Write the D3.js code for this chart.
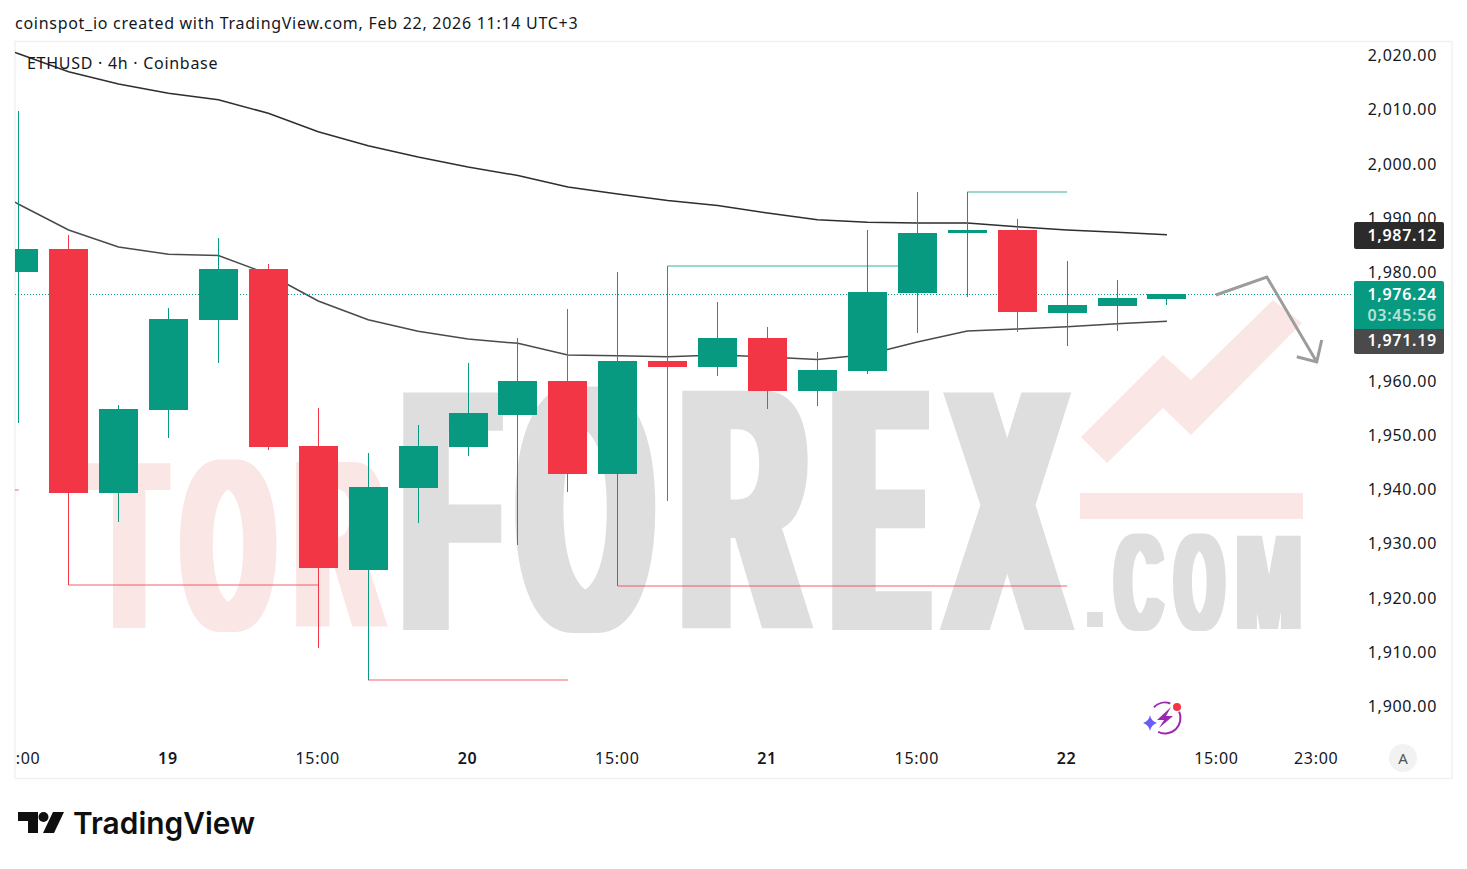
<!DOCTYPE html>
<html>
<head>
  <title>ETHUSD 4h Coinbase</title>
  <meta charset="utf-8">
  <script src="https://d3js.org/d3.v7.min.js"></script>
  <style>
    html, body { margin: 0; padding: 0; background: #fff; }
    svg { display: block; }
    text { font-family: "Noto Sans", sans-serif; fill: #131722; }
    .spaced { letter-spacing: 0.72px; }
    .price-axis text, .time-axis text { font-size: 16px; letter-spacing: 0.72px; }
    .price-axis .domain, .time-axis .domain, .price-axis line, .time-axis line { display: none; }
  </style>
</head>
<body>
<div id="chart"></div>
<script>
// 4h candles, first one is cut by the left edge
const opens  = [1980.28,1984.52,1939.54,1954.84,1971.43,1980.83,1948.20,1925.35,1940.46,1948.02,1953.92,1960.18,1943.04,1963.87,1962.76,1968.11,1958.34,1962.03,1976.41,1987.47,1988.02,1972.72,1974.01,1975.30];
const highs  = [2009.95,1987.10,1955.76,1973.64,1986.54,1981.75,1955.21,1946.91,1952.07,1963.50,1968.11,1973.46,1980.28,1981.38,1974.75,1970.14,1965.53,1988.02,1995.02,1995.02,1990.05,1982.30,1978.80,1976.24];
const lows   = [1952.44,1922.58,1934.19,1949.68,1963.56,1947.47,1910.97,1905.07,1934.01,1946.36,1929.95,1939.72,1922.40,1938.06,1961.11,1955.02,1955.58,1961.53,1969.03,1975.67,1969.22,1966.64,1969.40,1974.19];
const closes = [1984.52,1939.54,1955.02,1971.61,1980.83,1948.02,1925.71,1940.64,1948.20,1954.29,1960.18,1943.04,1963.87,1962.76,1968.11,1958.34,1962.21,1976.59,1987.47,1988.02,1972.90,1974.19,1975.48,1976.24];

// the averages start one bar before the first candle, that bar is off the chart
const maUpper = [2023.90,2020.50,2017.20,2014.93,2013.22,2012.04,2009.53,2006.14,2003.56,2001.47,1999.63,1998.06,1995.94,1994.65,1993.46,1992.53,1991.15,1989.92,1989.44,1989.31,1989.31,1988.63,1988.02,1987.59,1987.12];
const maLower = [1997.80,1992.76,1988.02,1984.89,1983.54,1983.32,1979.91,1974.93,1971.48,1969.35,1967.93,1967.13,1964.98,1964.85,1964.66,1964.98,1964.61,1964.15,1965.07,1967.37,1969.40,1969.77,1970.19,1970.75,1971.19];

// pivot levels: from bar, to bar, price
const pivotLows  = [[-1,0,1940.17],[1,6,1922.58],[7,11,1905.07],[12,21,1922.31]];
const pivotHighs = [[13,18,1981.38],[19,21,1995.02]];

// 1,970.00 is hidden behind the price tags
const priceTicks = [2020,2010,2000,1990,1980,1960,1950,1940,1930,1920,1910,1900];
const timeBars   = [0,3,6,9,12,15,18,21,24,26];
const timeLabels = ["15:00","19","15:00","20","15:00","21","15:00","22","15:00","23:00"];

const lastPrice = 1976.24;
const countdown = "03:45:56";
// hand drawn arrow on the chart, [bar, price]
const drawnArrow = [[23.98,1976.04],[25,1979.36],[26,1963.70]];
const drawnHead  = [[25.6,1964.66],[26,1963.70],[26.1,1967.74]];

const green = "#089981", red = "#F23645";
const width = 1467, height = 869;
const plotLeft = 15, plotRight = 1352, plotTop = 42, plotBottom = 741;

const x = d3.scaleLinear().domain([0, 26]).range([18.68, 1316.73]);
const y = d3.scaleLinear().domain([2020, 1900]).range([56.5, 707.5]);

const svg = d3.select("#chart").append("svg")
  .attr("width", width)
  .attr("height", height);

const defs = svg.append("defs");
defs.append("clipPath").attr("id", "plot-clip").append("rect")
  .attr("x", plotLeft).attr("y", plotTop)
  .attr("width", plotRight - plotLeft).attr("height", plotBottom - plotTop);
defs.append("clipPath").attr("id", "time-clip").append("rect")
  .attr("x", plotLeft).attr("y", plotBottom)
  .attr("width", plotRight - plotLeft).attr("height", 36);

// condensed heavy watermark: stretch each letter into its box and fatten it sideways
function widen(id, r) {
  defs.append("filter").attr("id", id)
    .attr("filterUnits", "userSpaceOnUse")
    .attr("x", 0).attr("y", 0).attr("width", width).attr("height", height)
    .append("feMorphology")
      .attr("operator", "dilate")
      .attr("radius", r + " 0");
}
widen("fat-big", 12);
widen("fat-mid", 8);
widen("fat-small", 5);

const measure = document.createElement("canvas").getContext("2d");
function drawLetters(letters, color, filterId, r) {
  const g = svg.append("g").attr("filter", "url(#" + filterId + ")");
  letters.forEach(function(d) {
    measure.font = "bold 200px 'Liberation Sans'";
    const m = measure.measureText(d[0]);
    const inkW = m.actualBoundingBoxRight + m.actualBoundingBoxLeft;
    const inkH = m.actualBoundingBoxAscent + m.actualBoundingBoxDescent;
    const sx = (d[2] - d[1] - 2 * r) / inkW;
    const sy = (d[4] - d[3]) / inkH;
    g.append("text")
      .attr("transform", "translate(" + (d[1] + r + m.actualBoundingBoxLeft * sx) + "," + (d[3] + m.actualBoundingBoxAscent * sy) + ") scale(" + sx + "," + sy + ")")
      .style("font-family", "'Liberation Sans'")
      .style("font-weight", "bold")
      .style("font-size", "200px")
      .style("fill", color)
      .text(d[0]);
  });
}

drawLetters([["T",88,171,462,628],["O",180,277,459,632],["R",296,388,462,628]], "#fbe6e6", "fat-mid", 8);
drawLetters([["F",403,503,390,630],["O",515,656,386,633],["R",682,814,390,630],["E",832,932,390,630],["X",939,1075,390,630]], "#dedede", "fat-big", 12);
drawLetters([[".",1087,1103,612,627],["C",1113,1165,533,631],["O",1173,1226,533,631],["M",1237,1301,535,629]], "#dedede", "fat-small", 5);

svg.append("polygon")
  .attr("points", "1081,437 1163,355 1191,380 1273,300 1302,323 1191,435 1163,408 1107,463")
  .attr("fill", "#fbe6e6");
svg.append("rect")
  .attr("x", 1080).attr("y", 493).attr("width", 223).attr("height", 26)
  .attr("fill", "#fbe6e6");

// frame
svg.append("rect")
  .attr("x", 15).attr("y", 41.5).attr("width", 1437).attr("height", 737)
  .attr("fill", "none").attr("stroke", "#f2f2f2").attr("stroke-width", 1.5);

svg.append("text")
  .attr("class", "spaced")
  .attr("x", 15).attr("y", 29)
  .style("font-size", "16px")
  .text("coinspot_io created with TradingView.com, Feb 22, 2026 11:14 UTC+3");

const plot = svg.append("g").attr("clip-path", "url(#plot-clip)");

// pivot levels sit under the candles
function drawPivots(list, color) {
  plot.selectAll(null)
    .data(list)
    .enter().append("line")
      .attr("x1", d => x(d[0]))
      .attr("x2", d => x(d[1]))
      .attr("y1", d => Math.round(y(d[2])))
      .attr("y2", d => Math.round(y(d[2])))
      .attr("stroke", color)
      .attr("stroke-opacity", 0.4)
      .attr("stroke-width", 2);
}
drawPivots(pivotLows, red);
drawPivots(pivotHighs, green);

const maLine = d3.line()
  .x((d, i) => x(i - 1))
  .y(d => y(d));

plot.append("path")
  .datum(maUpper)
  .attr("d", maLine)
  .attr("fill", "none")
  .attr("stroke", "#2e2e2e")
  .attr("stroke-width", 1.5);
plot.append("path")
  .datum(maLower)
  .attr("d", maLine)
  .attr("fill", "none")
  .attr("stroke", "#4a4a4a")
  .attr("stroke-width", 1.5);

plot.append("line")
  .attr("x1", plotLeft).attr("x2", plotRight)
  .attr("y1", 294.5).attr("y2", 294.5)
  .attr("stroke", green)
  .attr("stroke-dasharray", "1 2");

const bars = opens.map((o, i) => ({i: i, o: o, h: highs[i], l: lows[i], c: closes[i]}));
const candle = plot.selectAll("g.candle")
  .data(bars)
  .enter().append("g")
    .attr("class", "candle")
    .attr("fill", d => d.c >= d.o ? green : red);
candle.append("rect")
  .attr("x", d => Math.floor(x(d.i)))
  .attr("width", 1)
  .attr("y", d => Math.round(y(d.h)))
  .attr("height", d => Math.round(y(d.l)) - Math.round(y(d.h)));
candle.append("rect")
  .attr("x", d => Math.floor(x(d.i)) - 19)
  .attr("width", 39)
  .attr("y", d => Math.round(y(Math.max(d.o, d.c))))
  .attr("height", d => Math.round(y(Math.min(d.o, d.c))) - Math.round(y(Math.max(d.o, d.c))));

// drawn arrow
const arrowLine = d3.line().x(d => x(d[0])).y(d => y(d[1]));
[drawnArrow, drawnHead].forEach(function(pts) {
  svg.append("path")
    .attr("d", arrowLine(pts))
    .attr("fill", "none")
    .attr("stroke", "#9c9c9c")
    .attr("stroke-width", 3);
});

svg.append("text")
  .attr("class", "spaced")
  .attr("x", 27).attr("y", 69)
  .style("font-size", "16px")
  .text("ETHUSD \u00b7 4h \u00b7 Coinbase");

// axes
const priceAxis = d3.axisRight(y)
  .tickValues(priceTicks)
  .tickFormat(d3.format(",.2f"))
  .tickSize(0)
  .tickPadding(0);
svg.append("g")
  .attr("class", "price-axis")
  .attr("transform", "translate(1437,-1)")
  .call(priceAxis)
  .selectAll("text")
    .attr("text-anchor", "end");

const timeAxis = d3.axisBottom(x)
  .tickValues(timeBars)
  .tickFormat((d, i) => timeLabels[i])
  .tickSize(0)
  .tickPadding(0);
const timeG = svg.append("g")
  .attr("clip-path", "url(#time-clip)")
  .append("g")
  .attr("class", "time-axis")
  .attr("transform", "translate(-1,753)")
  .call(timeAxis);
timeG.selectAll("text")
  .attr("font-weight", (d, i) => timeLabels[i].length < 3 ? 600 : 400)
  .style("font-family", "'Noto Sans'");

// price tags on the right
function tag(top, h, color, radii) {
  const l = 1354, r = 1444, b = top + h;
  const p = d3.path();
  p.moveTo(l + radii[0], top);
  p.lineTo(r - radii[0], top);
  p.arcTo(r, top, r, top + radii[0], radii[0]);
  p.lineTo(r, b - radii[1]);
  p.arcTo(r, b, r - radii[1], b, radii[1]);
  p.lineTo(l + radii[1], b);
  p.arcTo(l, b, l, b - radii[1], radii[1]);
  p.lineTo(l, top + radii[0]);
  p.arcTo(l, top, l + radii[0], top, radii[0]);
  svg.append("path").attr("d", p.toString()).attr("fill", color);
}
tag(222, 27, "#2b2b2b", [2, 2]);
tag(281, 48, green, [2, 0]);
tag(329, 25, "#4a4a4a", [0, 2]);

function tagText(py, str, color) {
  svg.append("text")
    .attr("class", "spaced")
    .attr("x", 1437).attr("y", py)
    .attr("text-anchor", "end")
    .attr("font-weight", 600)
    .style("font-size", "16px")
    .style("fill", color)
    .text(str);
}
const priceFmt = d3.format(",.2f");
tagText(240.5, priceFmt(maUpper[maUpper.length - 1]), "#fff");
tagText(299.5, priceFmt(lastPrice), "#fff");
tagText(320.5, countdown, "#b5e1d9");
tagText(345.5, priceFmt(maLower[maLower.length - 1]), "#fff");

// auto scale button
svg.append("circle").attr("cx", 1403).attr("cy", 758).attr("r", 14).attr("fill", "#f2f2f2");
svg.append("text")
  .attr("x", 1403).attr("y", 763.5)
  .attr("text-anchor", "middle")
  .style("font-size", "15px")
  .style("fill", "#555")
  .text("A");

// little spark icon near the bottom
const icon = svg.append("g").attr("transform", "translate(1165,718)");
const ring = d3.arc().innerRadius(14.5).outerRadius(16.5);
[[-0.8, 0.35], [1.15, 3.6]].forEach(function(a) {
  icon.append("path")
    .attr("d", ring({startAngle: a[0], endAngle: a[1]}))
    .attr("fill", "#9c27b0");
});
icon.append("path")
  .attr("d", "M6,-11 L-8,2 L-1,2 L-6,10 L8,-2 L1,-2 Z")
  .attr("fill", "#9c27b0");
icon.append("circle").attr("cx", 12).attr("cy", -11).attr("r", 4).attr("fill", red);
icon.append("path")
  .attr("d", "M-15,-3 Q-14,3 -8,5 Q-14,7 -15,13 Q-16,7 -22,5 Q-16,3 -15,-3 Z")
  .attr("fill", "#6b5cf6");

// TradingView logo
const logo = svg.append("g").attr("fill", "#0f0f0f");
logo.append("polygon").attr("points", "18,812 38,812 38,833 28,833 28,821 18,821");
logo.append("circle").attr("cx", 43.5).attr("cy", 817).attr("r", 5);
logo.append("polygon").attr("points", "53,812 64,812 54,833 43,833");
logo.append("text")
  .attr("x", 73).attr("y", 834)
  .attr("textLength", 182)
  .attr("lengthAdjust", "spacingAndGlyphs")
  .attr("font-weight", 600)
  .style("font-family", "Inter")
  .style("font-size", "30px")
  .style("fill", "#0f0f0f")
  .text("TradingView");
</script>
</body>
</html>
